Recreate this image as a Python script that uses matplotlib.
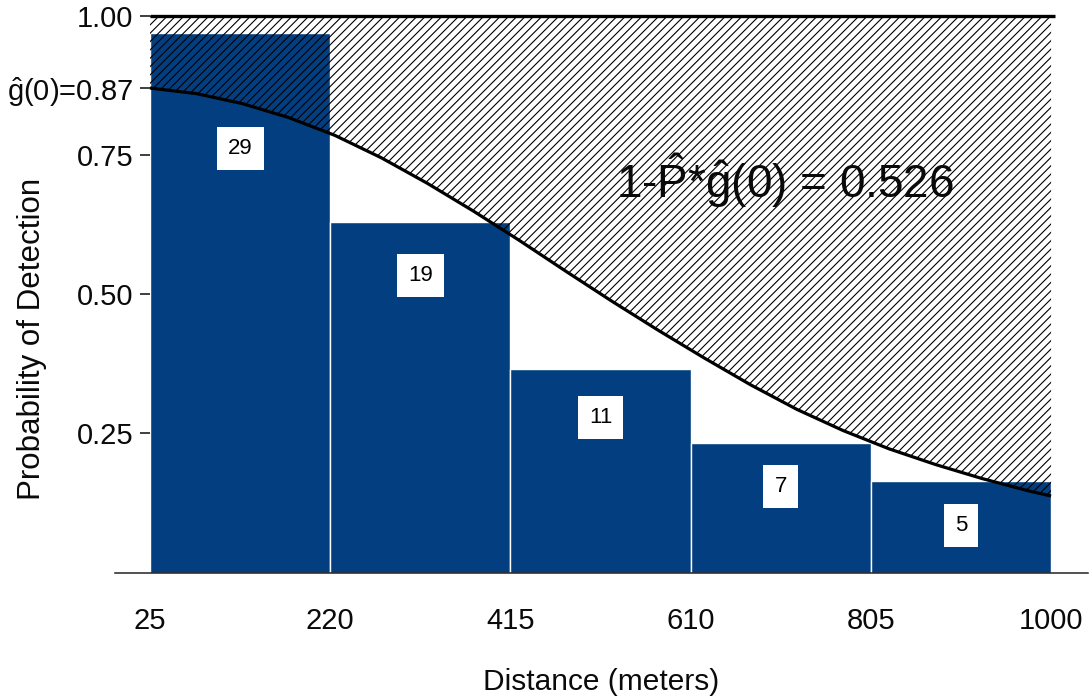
import matplotlib
matplotlib.use("Agg")
import matplotlib.pyplot as plt
import numpy as np

plt.rcParams['font.family'] = ['Liberation Sans', 'DejaVu Sans']
plt.rcParams['mathtext.fontset'] = 'custom'
plt.rcParams['mathtext.rm'] = 'Liberation Sans'
plt.rcParams['mathtext.it'] = 'Liberation Sans:italic'
plt.rcParams['hatch.linewidth'] = 0.8

# --- data ---
bin_edges = [25, 220, 415, 610, 805, 1000]
bar_heights = [0.969, 0.630, 0.365, 0.233, 0.164]
counts = [29, 19, 11, 7, 5]
label_y = [0.762, 0.534, 0.279, 0.154, 0.084]

curve_x = [25, 75, 125, 175, 225, 275, 325, 375, 425, 475, 525,
           575, 625, 675, 725, 775, 825, 875, 925, 975, 1000]
curve_y = [0.870, 0.860, 0.842, 0.817, 0.785, 0.745, 0.699, 0.649, 0.596,
           0.541, 0.487, 0.435, 0.385, 0.337, 0.293, 0.255, 0.222, 0.194,
           0.169, 0.147, 0.1375]

ytick_vals = [0.25, 0.50, 0.75, 0.87, 1.00]
ytick_labels = ['0.25', '0.50', '0.75', r'$\mathrm{\hat{g}}$(0)=0.87', '1.00']
p_text = r'1-$\mathrm{\hat{P}}$*$\mathrm{\hat{g}}$(0) = 0.526'

bar_color = '#033f80'
text_color = '#0a0a0a'

fig = plt.figure(figsize=(10.91, 7.0), dpi=100)
ax = fig.add_axes([0.1054, 0.182, 0.8919, 0.8116])

left = np.array(bin_edges[:-1])
widths = np.diff(bin_edges)
ax.bar(left, bar_heights, width=widths, align='edge', color=bar_color,
       edgecolor='white', linewidth=1.0, zorder=1)

# hatched region between fitted curve and 1.0
ax.fill_between(curve_x, curve_y, 1.0, facecolor='none', edgecolor='black',
                hatch='////', linewidth=0.0, zorder=2)
ax.plot(curve_x, curve_y, color='black', linewidth=2.3, zorder=3,
        solid_capstyle='butt', solid_joinstyle='round')
ax.hlines(1.0, bin_edges[0], bin_edges[-1] + 4, color='black', linewidth=2.4, zorder=3)

centers = left + widths / 2
for cx, cy, n in zip(centers, label_y, counts):
    ax.text(cx, cy, str(n), ha='center', va='center', fontsize=16,
            color='black', zorder=4,
            bbox=dict(boxstyle='square,pad=0.5', facecolor='white',
                      edgecolor='none'))

ax.text(712, 0.6725, p_text, ha='center', va='baseline', fontsize=33,
        color=text_color, zorder=4)

ax.set_xlim(-12.9, 1040)
ax.set_ylim(0, 1.02)
ax.set_xticks(bin_edges)
ax.set_xticklabels([str(e) for e in bin_edges])
ax.tick_params(axis='x', length=0, pad=25, labelsize=21, colors=text_color)

ax.set_yticks(ytick_vals)
ax.set_yticklabels(ytick_labels)
ax.tick_params(axis='y', length=7.2, width=1.1, pad=5, labelsize=21,
               colors=text_color)
ax.yaxis.get_major_ticks()[3].label1.set_fontsize(16)

for s in ['top', 'right']:
    ax.spines[s].set_visible(False)
ax.spines['left'].set_position(('data', 25))
ax.spines['left'].set_visible(False)
ax.spines['bottom'].set_linewidth(1.1)
ax.spines['bottom'].set_color('#222222')

ax.set_xlabel('Distance (meters)', fontsize=21.5, color=text_color)
ax.xaxis.set_label_coords(0.5, -0.168)
ax.set_ylabel('Probability of Detection', fontsize=22.5, color=text_color)
ax.yaxis.set_label_coords(-0.070, 0.411)

fig.savefig('out.png', dpi=100)
